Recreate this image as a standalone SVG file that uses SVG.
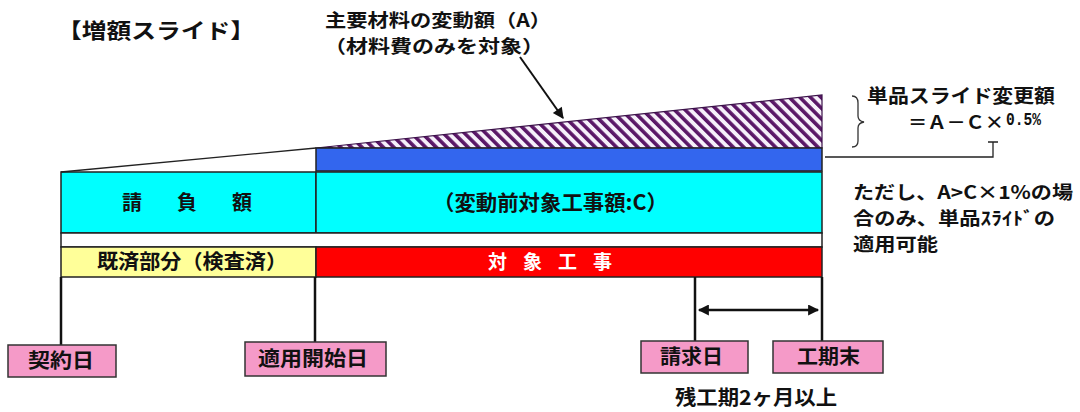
<svg xmlns="http://www.w3.org/2000/svg" width="1080" height="412" viewBox="0 0 1080 412">
<defs>
<style>
text{font-family:"Noto Sans CJK JP","Noto Sans",sans-serif;font-weight:bold;fill:#111}
.bar{stroke:#222;stroke-width:1.5}
.lbl{fill:#f59ac8;stroke:#333;stroke-width:1.5}
.ln{stroke:#111;stroke-width:2.5;fill:none}
.thin{stroke:#222;stroke-width:1.3;fill:none}
</style>
<pattern id="hatch" patternUnits="userSpaceOnUse" width="7.5" height="7.5" patternTransform="rotate(-45)">
<rect width="7.5" height="7.5" fill="#f6f0fa"/>
<rect width="3.6" height="7.5" fill="#5a1767"/>
</pattern>
<marker id="ah2" viewBox="0 0 10 10" refX="9" refY="5" markerWidth="14" markerHeight="11" orient="auto-start-reverse" markerUnits="userSpaceOnUse">
<path d="M0,0 L10,5 L0,10 z" fill="#111"/>
</marker>
</defs>

<text x="57" y="38" font-size="21" textLength="198" lengthAdjust="spacingAndGlyphs">【増額スライド】</text>

<g id="label-A">
<text x="325" y="27" font-size="18" textLength="226" lengthAdjust="spacingAndGlyphs">主要材料の変動額（A）</text>
<text x="324" y="53" font-size="18" textLength="220" lengthAdjust="spacingAndGlyphs">（材料費のみを対象）</text>
</g>

<g id="hatched">
<polygon points="316,148 822,95 822,148" fill="url(#hatch)" stroke="#3a1048" stroke-width="1.2"/>
</g>

<g id="blue-bar"><rect x="316" y="148" width="506" height="23" fill="#3366ee" class="bar"/></g>

<g id="ukeoi">
<rect x="61" y="172" width="255" height="61" fill="#00ffff" class="bar"/>
<text x="122" y="210" font-size="20" textLength="130" lengthAdjust="spacing">請　負　額</text>
</g>
<g id="taisho-c">
<rect x="316" y="172" width="506" height="61" fill="#00ffff" class="bar"/>
<text x="433" y="210" font-size="21" textLength="235" lengthAdjust="spacingAndGlyphs">（変動前対象工事額:C）</text>
</g>
<rect x="61" y="233" width="761" height="14" fill="#fff" class="bar"/>
<g id="kisai">
<rect x="61" y="247" width="255" height="30" fill="#ffff99" class="bar"/>
<text x="97" y="269" font-size="20" textLength="190" lengthAdjust="spacingAndGlyphs">既済部分（検査済）</text>
</g>
<g id="taisho-koji">
<rect x="316" y="247" width="506" height="30" fill="#ff0000" class="bar"/>
<text x="488" y="269" font-size="19" textLength="124" lengthAdjust="spacing" style="fill:#fff">対 象 工 事</text>
</g>

<g id="connectors">
<line x1="61" y1="172" x2="316" y2="148" class="thin"/>
<line x1="520" y1="57" x2="563" y2="118" stroke="#111" stroke-width="2" marker-end="url(#ah2)"/>
<line x1="61" y1="277" x2="61" y2="345" class="ln"/>
<line x1="315" y1="277" x2="315" y2="342" class="ln"/>
<line x1="695" y1="277" x2="695" y2="341" class="ln"/>
<line x1="822" y1="277" x2="822" y2="341" class="ln"/>
<line x1="699" y1="310" x2="818" y2="310" stroke="#111" stroke-width="2.5" marker-start="url(#ah2)" marker-end="url(#ah2)"/>
<path d="M825,157 H993 V142 M988,142 H998" class="thin"/>
<path d="M852,96 Q858,96 858,103 V116 Q858,121 864,122 Q858,123 858,128 V141 Q858,147 852,147" fill="none" stroke="#333" stroke-width="1.3"/>
</g>

<g id="keiyakubi"><rect x="8" y="345" width="108" height="32" class="lbl"/><text x="28" y="368" font-size="20" textLength="66" lengthAdjust="spacingAndGlyphs">契約日</text></g>
<g id="tekiyo"><rect x="245" y="342" width="141" height="34" class="lbl"/><text x="258" y="366" font-size="20" textLength="110" lengthAdjust="spacingAndGlyphs">適用開始日</text></g>
<g id="seikyubi"><rect x="641" y="341" width="107" height="32" class="lbl"/><text x="660" y="364" font-size="20" textLength="63" lengthAdjust="spacingAndGlyphs">請求日</text></g>
<g id="kokimatsu"><rect x="773" y="341" width="110" height="32" class="lbl"/><text x="797" y="364" font-size="20" textLength="63" lengthAdjust="spacingAndGlyphs">工期末</text></g>

<text x="675" y="405" font-size="20" textLength="162" lengthAdjust="spacingAndGlyphs">残工期2ヶ月以上</text>

<g id="tanpin">
<text x="867" y="103" font-size="19" textLength="188" lengthAdjust="spacingAndGlyphs">単品スライド変更額</text>
<text x="908" y="129" font-size="18" textLength="96" lengthAdjust="spacingAndGlyphs">＝Ａ－Ｃ×</text>
<text x="1006" y="125" font-size="18" textLength="35" lengthAdjust="spacingAndGlyphs" style="font-family:'Liberation Mono',monospace">0.5%</text>
</g>
<g id="note">
<text x="853" y="199" font-size="18" textLength="220" lengthAdjust="spacingAndGlyphs">ただし、A&gt;C×1%の場</text>
<text x="853" y="225" font-size="18" textLength="202" lengthAdjust="spacingAndGlyphs">合のみ、単品ｽﾗｲﾄﾞの</text>
<text x="853" y="251" font-size="18" textLength="85" lengthAdjust="spacingAndGlyphs">適用可能</text>
</g>
</svg>
